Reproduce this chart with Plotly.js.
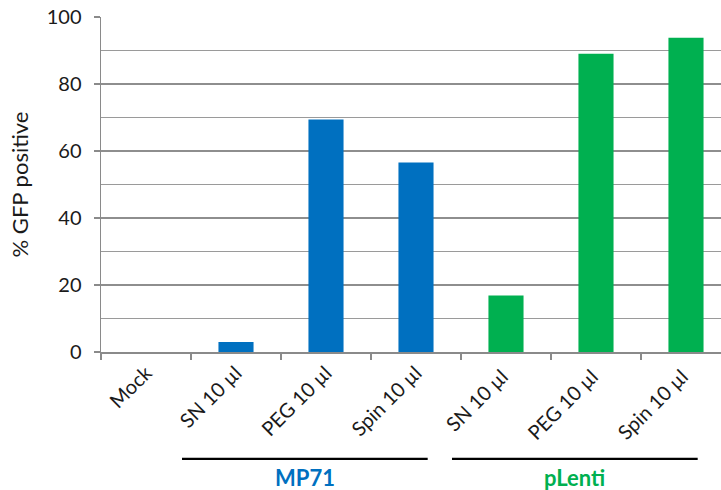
<!DOCTYPE html>
<html>
<head>
<meta charset="utf-8">
<script src="https://cdn.plot.ly/plotly-3.0.1.min.js"></script>
<style>
  html, body { margin: 0; padding: 0; background: #ffffff; }
  #chart { width: 721px; height: 490px; }
</style>
</head>
<body>
<div id="chart"></div>
<script>
// Transduction conditions (x categories) and % GFP positive cells
const categories = ['Mock', 'SN 10 µl', 'PEG 10 µl', 'Spin 10 µl', 'SN 10 µl ', 'PEG 10 µl ', 'Spin 10 µl '];
const gfpPositive = [0, 3.0, 69.4, 56.6, 16.9, 89.0, 93.8];
const vectorOfBar = ['none', 'MP71', 'MP71', 'MP71', 'pLenti', 'pLenti', 'pLenti'];

// Vector groups shown as brackets under the category labels
const groupNames = ['MP71', 'pLenti'];
const groupFirst = [1, 4];
const groupLast = [3, 6];

const yTickValues = [0, 20, 40, 60, 80, 100];

const vectorColors = { none: '#0070C0', MP71: '#0070C0', pLenti: '#00B050' };
const FONT = 'Lato, "Noto Sans", sans-serif';

const trace = {
  type: 'bar',
  x: categories,
  y: gfpPositive,
  marker: { color: vectorOfBar.map(v => vectorColors[v]), line: { width: 0 } },
  hoverinfo: 'x+y'
};

const shapes = [];
const annotations = [];
groupNames.forEach((name, i) => {
  const x0 = groupFirst[i] - 0.6;
  const x1 = groupLast[i] + 0.13;
  shapes.push({
    type: 'line', xref: 'x', yref: 'paper',
    x0: x0, x1: x1, y0: -0.319, y1: -0.319,
    line: { color: '#000000', width: 2.2 }
  });
  annotations.push({
    xref: 'x', yref: 'paper',
    x: (x0 + x1) / 2, y: -0.376,
    text: '<b>' + name + '</b>', showarrow: false,
    xanchor: 'center', yanchor: 'middle',
    font: { family: FONT, size: 22, color: vectorColors[name] }
  });
});

const layout = {
  width: 721, height: 490,
  margin: { l: 101, r: 0, t: 17, b: 138 },
  paper_bgcolor: '#ffffff', plot_bgcolor: '#ffffff',
  showlegend: false,
  bargap: 0.61,
  font: { family: FONT, size: 20, color: '#1a1a1a' },
  xaxis: {
    type: 'category',
    range: [-0.5, 6.389],
    tickangle: -45,
    ticks: 'outside', tickson: 'boundaries', ticklen: 6, tickwidth: 1.3, tickcolor: '#8a8a8a',
    showline: true, linecolor: '#8a8a8a', linewidth: 1.5,
    showgrid: false, zeroline: false,
    tickfont: { family: FONT, size: 20, color: '#1a1a1a' },
    fixedrange: true
  },
  yaxis: {
    range: [0, 100],
    tickvals: yTickValues,
    ticks: 'outside', ticklen: 6, tickwidth: 1.3, tickcolor: '#8a8a8a',
    ticklabelstandoff: 8,
    showline: true, linecolor: '#8a8a8a', linewidth: 1.5,
    showgrid: true, gridcolor: '#8e8e8e', gridwidth: 1.8,
    minor: { dtick: 10, showgrid: true, gridcolor: '#9a9a9a', gridwidth: 1, ticks: '' },
    zeroline: false,
    tickfont: { family: FONT, size: 20, color: '#1a1a1a' },
    title: { text: '% GFP positive', font: { family: FONT, size: 22, color: '#1a1a1a' }, standoff: 12 },
    fixedrange: true
  },
  shapes: shapes,
  annotations: annotations
};

Plotly.newPlot('chart', [trace], layout, { displayModeBar: false, staticPlot: true });
</script>
</body>
</html>
